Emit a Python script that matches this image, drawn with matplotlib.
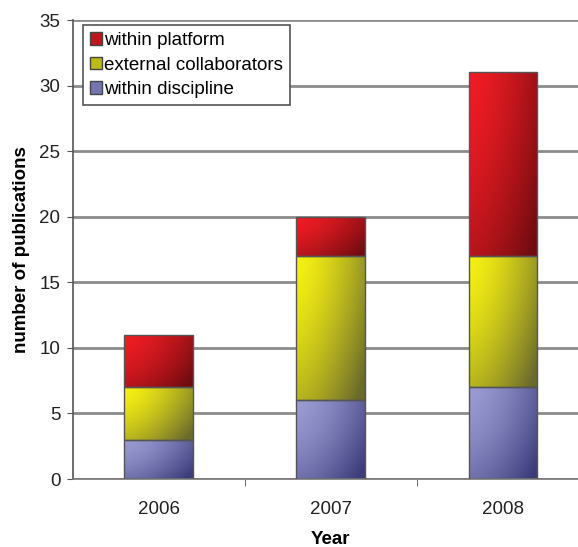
import numpy as np
import matplotlib.pyplot as plt
from matplotlib.patches import Patch
from matplotlib.colors import to_rgb

plt.rcParams['font.family'] = ['Liberation Sans', 'DejaVu Sans']

years = ['2006', '2007', '2008']
within_discipline = [3, 6, 7]
external_collaborators = [4, 11, 10]
within_platform = [4, 3, 14]

series = [
    ('within discipline', within_discipline, '#9b9bd3', '#3c3c7c'),
    ('external collaborators', external_collaborators, '#f5f012', '#6a6a2c'),
    ('within platform', within_platform, '#f01c24', '#700c10'),
]


def gradient_fill(ax, bar, light, dark):
    # diagonal gradient: light top-left -> dark bottom-right
    x0, y0 = bar.get_x(), bar.get_y()
    w, h = bar.get_width(), bar.get_height()
    n = 60
    u = np.linspace(0, 1, n)[None, :]
    v = np.linspace(0, 1, n)[:, None]  # 0 at top row
    t = np.clip(0.65 * u ** 1.5 + 0.45 * v ** 1.5, 0, 1)
    c0, c1 = np.array(to_rgb(light)), np.array(to_rgb(dark))
    img = c0[None, None, :] * (1 - t[..., None]) + c1[None, None, :] * t[..., None]
    im = ax.imshow(img, extent=(x0, x0 + w, y0, y0 + h), origin='upper',
                   aspect='auto', zorder=2, interpolation='bilinear')
    im.set_clip_path(bar)


fig = plt.figure(figsize=(5.78, 5.47), dpi=100)
ax = fig.add_axes([0.126, 0.1243, 0.893, 0.8391])

x = np.arange(len(years))
bottom = np.zeros(len(years))
handles = []
for name, vals, light, dark in series:
    bars = ax.bar(x, vals, 0.4, bottom=bottom, facecolor='none',
                  edgecolor='#555555', linewidth=1.0, zorder=3)
    for b in bars:
        gradient_fill(ax, b, light, dark)
    bottom += np.array(vals)
    handles.append(Patch(facecolor=0.6 * np.array(to_rgb(light)) + 0.4 * np.array(to_rgb(dark)),
                         edgecolor='#444444', label=name))

ax.set_xlim(-0.5, 2.5)
ax.set_ylim(0, 35)
ax.set_yticks(range(0, 36, 5))
ax.yaxis.grid(True, color='#8c8c8c', linewidth=2.0, zorder=0)
ax.set_axisbelow(True)

ax.set_xticks(x)
ax.set_xticklabels(years, fontsize=13.5, color='#222222')
ax.set_xticks([0.5, 1.5], minor=True)
ax.tick_params(axis='x', which='major', length=0, pad=16)
ax.tick_params(axis='x', which='minor', length=5, color='#555555', direction='out')
ax.tick_params(axis='y', length=4, color='#555555', labelsize=13.5, labelcolor='#222222', pad=5)

for s in ['top', 'right']:
    ax.spines[s].set_visible(False)
ax.spines['left'].set_color('#555555')
ax.spines['bottom'].set_color('#777777')
ax.spines['left'].set_linewidth(1.2)
ax.spines['bottom'].set_linewidth(1.2)

ax.set_xlabel('Year', fontsize=13.5, fontweight='bold', labelpad=9)
ax.set_ylabel('number of publications', fontsize=13.5, fontweight='bold', labelpad=7)

leg = ax.legend(handles=handles[::-1], loc='upper left', bbox_to_anchor=(0.019, 0.989),
                fontsize=13.5, handlelength=0.65, handleheight=0.65, handletextpad=0.12,
                borderpad=0.38, labelspacing=0.4, borderaxespad=0, fancybox=False,
                framealpha=1, edgecolor='#555555')
leg.get_frame().set_linewidth(1.2)

fig.savefig('out.png', dpi=100)
